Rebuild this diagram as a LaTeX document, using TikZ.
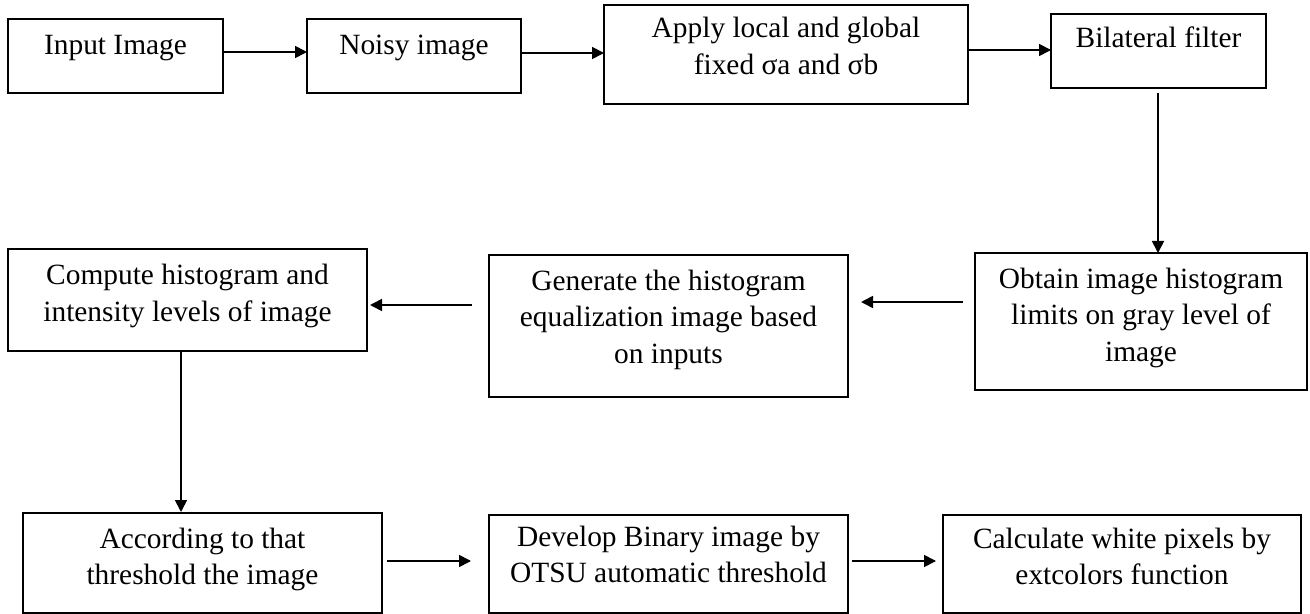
\documentclass[tikz,border=0pt]{standalone}
\usepackage{fontspec}
\setmainfont{Liberation Serif}
\usetikzlibrary{arrows.meta,fit}
\begin{document}
\begin{tikzpicture}[x=0.5pt,y=-0.5pt,
  box/.style={draw, line width=1pt, inner sep=0pt, outer sep=0pt},
  lbl/.style={anchor=base, align=center, inner sep=0pt, font=\fontsize{14.7pt}{18.3pt}\selectfont},
  arr/.style={-{Triangle[length=6pt,width=6pt]}, line width=0.85pt}]
\useasboundingbox[fill=white] (0,0) rectangle (1310,614);
% boxes
\node[box, fit={(8,19) (223,93)}] (b1) {};
\node[box, fit={(307,19) (521,93)}] (b2) {};
\node[box, fit={(604,5) (968,104)}] (b3) {};
\node[box, fit={(1051,14) (1266,88)}] (b4) {};
\node[box, fit={(975,253) (1307,390)}] (b5) {};
\node[box, fit={(489,255) (848,397)}] (b6) {};
\node[box, fit={(8,249) (367,351)}] (b7) {};
\node[box, fit={(23,513) (382,613)}] (b8) {};
\node[box, fit={(489,515) (848,613)}] (b9) {};
\node[box, fit={(943,515) (1301,613)}] (b10) {};
% texts (anchor = baseline of last line)
\node[lbl] (t1) at (115.5,55) {Input Image};
\node[lbl] (t2) at (414,55) {Noisy image};
\node[lbl] (t3) at (786,74.6) {Apply local and global\\fixed σa and σb};
\node[lbl] (t4) at (1158.5,48) {Bilateral filter};
\node[lbl] (t5) at (1141,361.2) {Obtain image histogram\\limits on gray level of\\image};
\node[lbl] (t6) at (668.5,363.2) {Generate the histogram\\equalization image based\\on inputs};
\node[lbl] (t7) at (187.5,321.6) {Compute histogram and\\intensity levels of image};
\node[lbl] (t8) at (202.5,584.6) {According to that\\threshold the image};
\node[lbl] (t9) at (668.5,582.6) {Develop Binary image by\\OTSU automatic threshold};
\node[lbl] (t10) at (1122,584.6) {Calculate white pixels by\\extcolors function};
% rows / columns for connectors
\coordinate (r1) at (0,52);
\coordinate (r2) at (0,53);
\coordinate (r3) at (0,50);
\coordinate (r5) at (0,302);
\coordinate (r6) at (0,305);
\coordinate (r8) at (0,561);
\coordinate (c4) at (1158,0);
\coordinate (c7) at (181,0);
% connectors
\draw[arr] (b1.east |- r1) -- (b2.west |- r1);
\draw[arr] (b2.east |- r2) -- (b3.west |- r2);
\draw[arr] (b3.east |- r3) -- (b4.west |- r3);
\draw[arr, shorten <=2.5pt] (b4.south -| c4) -- (b5.north -| c4);
\draw[arr, shorten <=6pt, shorten >=6.5pt] (b5.west |- r5) -- (b6.east |- r5);
\draw[arr, shorten <=8.5pt, shorten >=1.5pt] (b6.west |- r6) -- (b7.east |- r6);
\draw[arr] (b7.south -| c7) -- ([yshift=0.5pt]b8.north -| c7);
\draw[arr, shorten <=2.5pt, shorten >=9pt] (b8.east |- r8) -- (b9.west |- r8);
\draw[arr, shorten <=2pt, shorten >=3.5pt] (b9.east |- r8) -- (b10.west |- r8);
\end{tikzpicture}
\end{document}
